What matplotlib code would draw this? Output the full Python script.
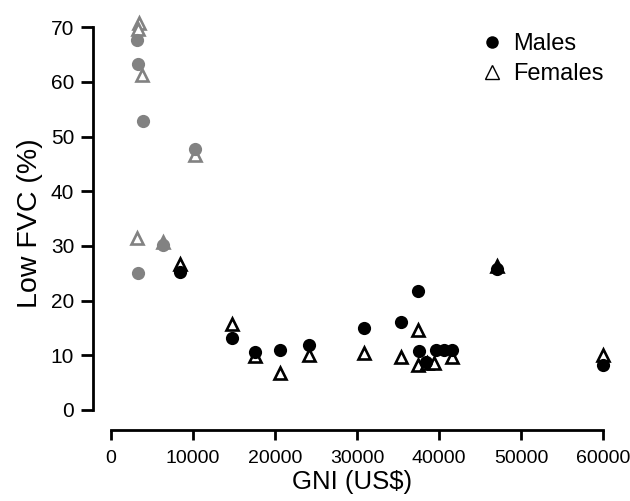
import matplotlib
matplotlib.use("Agg")
import matplotlib.pyplot as plt
from matplotlib.lines import Line2D

plt.rcParams['font.family'] = ['Liberation Sans', 'DejaVu Sans']

# Low-income countries (grey)
gray_m_gni = [3200, 3300, 3900, 3250, 6300, 10200]
gray_m_fvc = [67.6, 63.3, 52.9, 25.1, 30.2, 47.7]
gray_f_gni = [3400, 3300, 3800, 3150, 6300, 10200]
gray_f_fvc = [70.7, 69.6, 61.3, 31.4, 30.7, 46.6]

# Other countries (black)
m_gni = [8400, 14800, 17600, 20600, 24100, 30900, 35400, 37500, 37600, 38400,
         39600, 40600, 41600, 47100, 60000]
m_fvc = [25.3, 13.1, 10.6, 11.0, 11.9, 14.9, 16.0, 21.8, 10.8, 8.8,
         11.0, 11.0, 11.0, 25.8, 8.2]
f_gni = [8400, 14800, 17600, 20600, 24100, 30800, 35400, 37400, 37500, 38500,
         39400, 41600, 47100, 60000]
f_fvc = [26.7, 15.8, 9.8, 6.7, 10.0, 10.4, 9.6, 14.6, 8.2, 8.5,
         8.6, 9.6, 26.3, 10.0]

GRAY = '#828282'

fig = plt.figure(figsize=(6.3, 5.01), dpi=100)
ax = fig.add_axes([0.1476, 0.1417, 0.8225, 0.826])

tri_kw = dict(marker='^', linestyle='none', markersize=9, markeredgewidth=1.9,
              markerfacecolor='white')
cir_kw = dict(marker='o', linestyle='none', markersize=9.5, markeredgewidth=0)

ax.plot(gray_f_gni, gray_f_fvc, markeredgecolor=GRAY, clip_on=False, **tri_kw)
ax.plot(f_gni, f_fvc, markeredgecolor='black', clip_on=False, **tri_kw)
ax.plot(gray_m_gni, gray_m_fvc, color=GRAY, clip_on=False, **cir_kw)
ax.plot(m_gni, m_fvc, color='black', clip_on=False, **cir_kw)

ax.set_xlim(-2200, 61000)
ax.set_ylim(-3.66, 72)
ax.spines['top'].set_visible(False)
ax.spines['right'].set_visible(False)
ax.spines['left'].set_bounds(0, 70)
ax.spines['bottom'].set_bounds(0, 60000)
for s in ('left', 'bottom'):
    ax.spines[s].set_linewidth(2)
ax.set_xticks(range(0, 60001, 10000))
ax.set_yticks(range(0, 71, 10))
ax.tick_params(width=2, colors='black')
ax.tick_params(axis='x', length=7.5, pad=7, labelsize=14)
ax.tick_params(axis='y', length=8.5, pad=5, labelsize=15)

ax.set_xlabel('GNI (US$)', fontsize=18.5, labelpad=2)
ax.set_ylabel('Low FVC (%)', fontsize=20.5, labelpad=6)

handles = [
    Line2D([], [], marker='o', linestyle='none', color='black', markersize=9, markeredgewidth=0),
    Line2D([], [], marker='^', linestyle='none', markerfacecolor='white',
           markeredgecolor='black', markersize=10, markeredgewidth=1.0),
]
ax.legend(handles, ['Males', 'Females'], loc='upper left', frameon=False,
          fontsize=17, bbox_to_anchor=(0.751, 0.952), bbox_transform=fig.transFigure,
          borderaxespad=0, handlelength=0.8, handletextpad=0.5,
          labelspacing=0.31)

fig.savefig('out.png', dpi=100)
